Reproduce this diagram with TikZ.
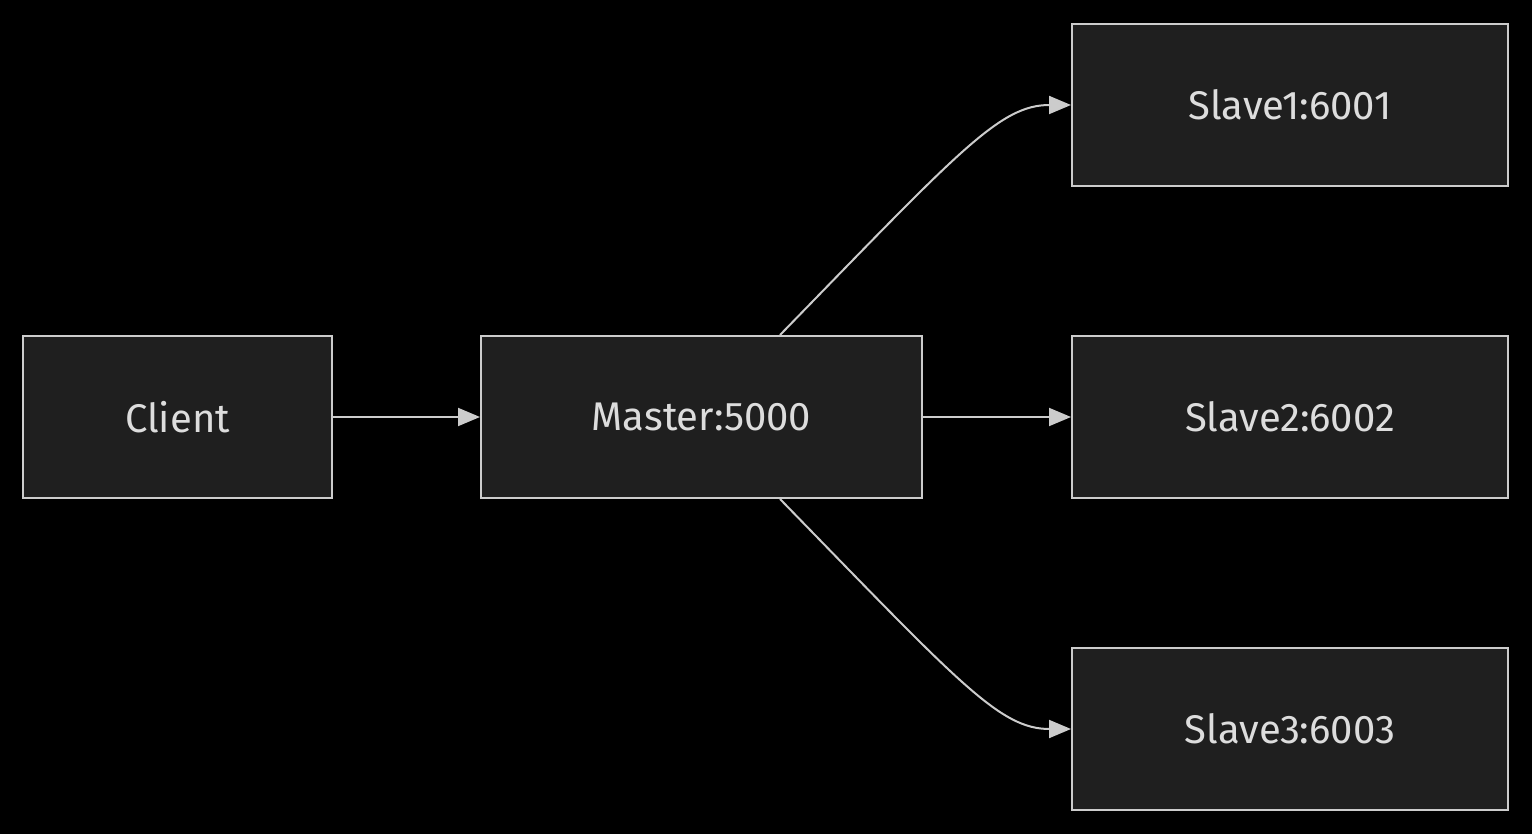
\documentclass[tikz,border=0pt]{standalone}
\usepackage{fontspec}
\setmainfont{Fira Sans}
\usetikzlibrary{arrows.meta}
\definecolor{bx}{HTML}{1F1F1F}
\definecolor{ln}{HTML}{CCCCCC}
\definecolor{tx}{HTML}{DDDDDD}
\begin{document}
\begin{tikzpicture}[x=1pt,y=-1pt,
  box/.style={draw=ln,fill=bx,line width=2pt,minimum height=162pt,inner sep=0pt,text=tx,font=\fontsize{40}{48}\selectfont},
  arr/.style={draw=ln,line width=2pt,-{Triangle[length=22pt,width=18pt]}}]
\fill[black] (0,0) rectangle (1532,834);
\useasboundingbox (0,0) rectangle (1532,834);
\node[box,minimum width=309pt] (c) at (177.5,417) {Client};
\node[box,minimum width=441pt] (m) at (701.5,417) {Master:5000};
\node[box,minimum width=436pt] (s1) at (1290,105) {Slave1:6001};
\node[box,minimum width=436pt] (s2) at (1290,417) {Slave2:6002};
\node[box,minimum width=436pt] (s3) at (1290,729) {Slave3:6003};
\draw[arr] (c) -- (m);
\draw[arr] (m) -- (s2);
\draw[arr] ([xshift=78.5pt]m.north) .. controls (960,150) and (1000,105) .. (s1.west);
\draw[arr] ([xshift=78.5pt]m.south) .. controls (960,684) and (1000,729) .. (s3.west);
\end{tikzpicture}
\end{document}
